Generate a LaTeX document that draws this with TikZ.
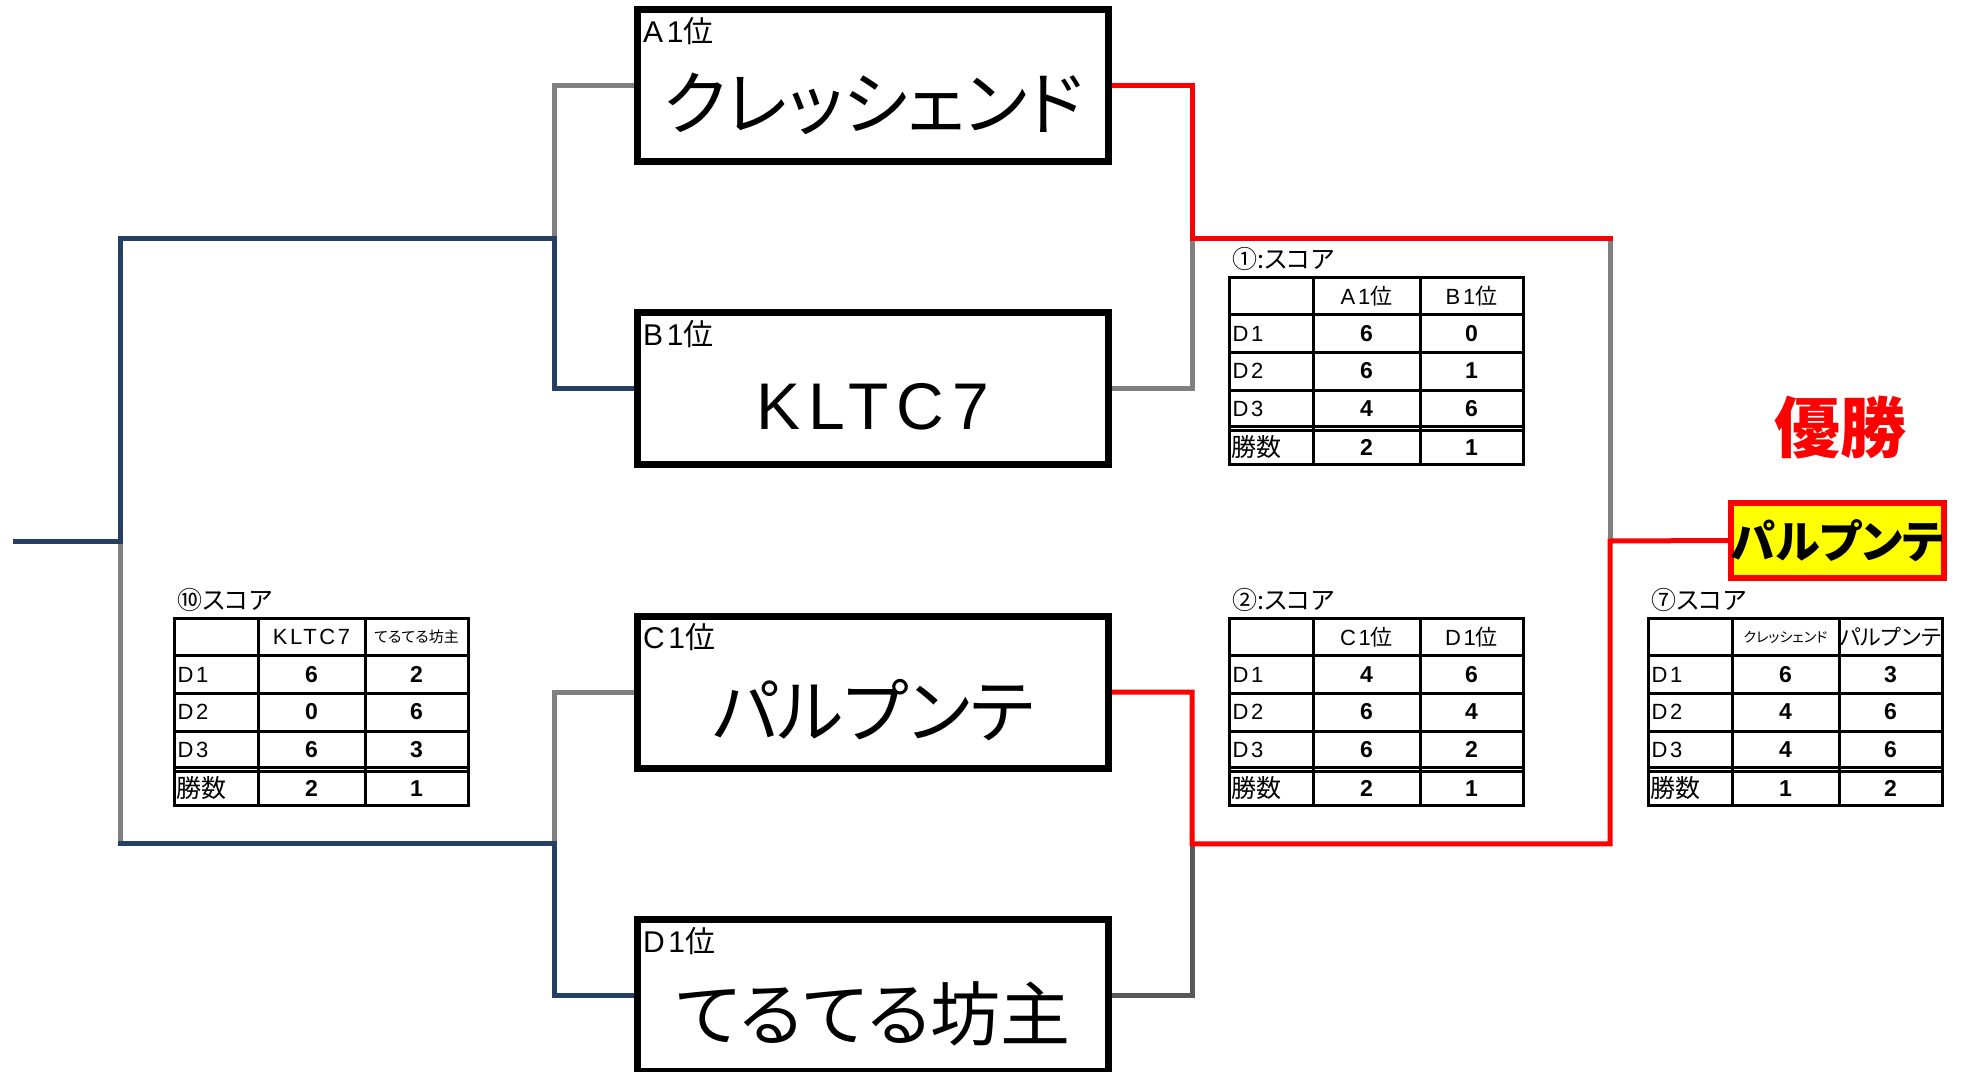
\documentclass[tikz,border=0pt]{standalone}
\usepackage{fontspec}
\setmainfont{Noto Sans CJK JP}[RawFeature=+palt]
\newfontfamily\latin{Liberation Sans}[LetterSpace=12]
\newfontfamily\digits{Liberation Sans}
\usetikzlibrary{backgrounds}

\definecolor{bracketnavy}{RGB}{37,64,97}
\definecolor{lossgray}{RGB}{128,128,128}
\definecolor{lossdark}{RGB}{89,89,89}
\definecolor{champyellow}{RGB}{255,255,0}

\tikzset{
	teambox/.style={draw,line width=7pt,minimum width=471pt,minimum height=152pt,inner sep=0pt},
	teamname/.style={inner sep=0pt,font=\fontsize{70}{80}\selectfont},
	seedlabel/.style={anchor=base west,inner sep=0pt,font=\fontsize{30}{32}\selectfont},
	champbox/.style={draw=red,fill=champyellow,line width=6pt,minimum width=213pt,minimum height=75pt,
		inner sep=0pt,font=\fontsize{45}{50}\selectfont\bfseries},
	bracketline/.style={line width=5pt,line cap=rect},
	lostpath/.style={bracketline,lossgray},
	navypath/.style={bracketline,bracketnavy},
	wonpath/.style={bracketline,red},
	tablerule/.style={line width=3pt},
	tabletitle/.style={anchor=base west,inner sep=0pt,font=\fontsize{25}{27}\selectfont},
	namecell/.style={inner sep=0pt,font=\fontsize{22}{24}\selectfont},
	scorecell/.style={inner sep=0pt,font=\fontsize{23}{25}\selectfont\digits\bfseries}
}

\newcommand{\scoretable}[8]{%
	\begin{scope}[shift={#2}]
		\draw[tablerule] (0,0) rectangle (294,187);
		\draw[tablerule] (83.5,0) -- (83.5,187) (190.5,0) -- (190.5,187);
		\foreach \y in {37,75,113,149,153}
			\draw[tablerule] (0,\y) -- (294,\y);
		\node[tabletitle] (#1-title) at (3,-9.5) {#3};
		\node[namecell] (#1-h1) at (137,18.5) {#4};
		\node[namecell] (#1-h2) at (242,18.5) {#5};
		\foreach \lbl/\sa/\sb [count=\i] in {#6} {
			\node[namecell,anchor=west] (#1-r\i) at (3,18.5+37.5*\i) {\latin\lbl};
			\node[scorecell]            (#1-a\i) at (137,18.5+37.5*\i) {\sa};
			\node[scorecell]            (#1-b\i) at (242,18.5+37.5*\i) {\sb};
		}
		\node[namecell,anchor=west,font=\fontsize{25}{27}\selectfont] (#1-wins) at (2,170) {勝数};
		\node[scorecell] (#1-wa) at (137,170) {#7};
		\node[scorecell] (#1-wb) at (242,170) {#8};
	\end{scope}}

\begin{document}
\begin{tikzpicture}[x=1pt,y=-1pt]
	\useasboundingbox (0,0) rectangle (1965,1071);

	\foreach \id/\y/\seedname/\team in {
		a1/85.5/A/クレッシェンド,
		b1/388.5/B/{\fontsize{66}{70}\selectfont\latin KLTC7},
		c1/692/C/パルプンテ,
		d1/995.5/D/てるてる坊主}
	{
		\node[teambox]  (\id)      at (873,\y) {};
		\node[teamname] (\id-name) at ([yshift=-18pt]\id.center) {\team};
		\node[seedlabel] (\id-seed) at ([xshift=9pt,yshift=-36pt]\id.north west) {{\latin\seedname1}位};
	}

	\node[champbox] (champ) at (1837.5,540.5) {パルプンテ};
	\node[text=red,inner sep=0pt,font=\fontsize{66}{70}\selectfont\bfseries] (yusho) at (1840,428) {優勝};

	\begin{scope}[on background layer]
		\coordinate (ab-l)     at (554,238);
		\coordinate (ab-far)   at (120,238);
		\coordinate (cd-l)     at (554,843.75);
		\coordinate (cd-far)   at (120,843.75);
		\coordinate (semi-l)   at (120,541);
		\coordinate (entry)    at (15,541);
		\coordinate (ab-r)     at (1192,238);
		\coordinate (ab-far-r) at (1610,238);
		\coordinate (cd-r)     at (1192,843.75);
		\coordinate (cd-far-r) at (1610,843.75);
		\coordinate (final)    at (1610,541);

		\draw[lostpath] (a1.west) -| (ab-l);
		\draw[lostpath] (c1.west) -| (cd-l);
		\draw[lostpath] (cd-far) -- (semi-l);
		\draw[lostpath] (b1.east) -| (ab-r);
		\draw[lostpath] (ab-far-r) -- (final);
		\draw[bracketline,lossdark] (d1.east) -| (cd-r);

		\draw[navypath] (b1.west) -| (ab-l) -- (ab-far) -- (semi-l) -- (entry);
		\draw[navypath] (d1.west) -| (cd-l) -- (cd-far);

		\draw[wonpath] (a1.east) -| (ab-r) -- (ab-far-r);
		\draw[wonpath] (c1.east) -| (cd-r) -- (cd-far-r) -- (final) -- (champ.west);
	\end{scope}

	\scoretable{s1}{(1229.5,277.5)}{①:スコア}{{\latin A1}位}{{\latin B1}位}{D1/6/0,D2/6/1,D3/4/6}{2}{1}
	\scoretable{s2}{(1229.5,618.5)}{②:スコア}{{\latin C1}位}{{\latin D1}位}{D1/4/6,D2/6/4,D3/6/2}{2}{1}
	\scoretable{s10}{(174.5,618.5)}{⑩スコア}{\latin KLTC7}{{\fontsize{15}{16}\selectfont てるてる坊主}}{D1/6/2,D2/0/6,D3/6/3}{2}{1}
	\scoretable{s7}{(1648.5,618.5)}{⑦スコア}{{\fontsize{14}{15}\selectfont クレッシェンド}}{パルプンテ}{D1/6/3,D2/4/6,D3/4/6}{1}{2}
\end{tikzpicture}
\end{document}
